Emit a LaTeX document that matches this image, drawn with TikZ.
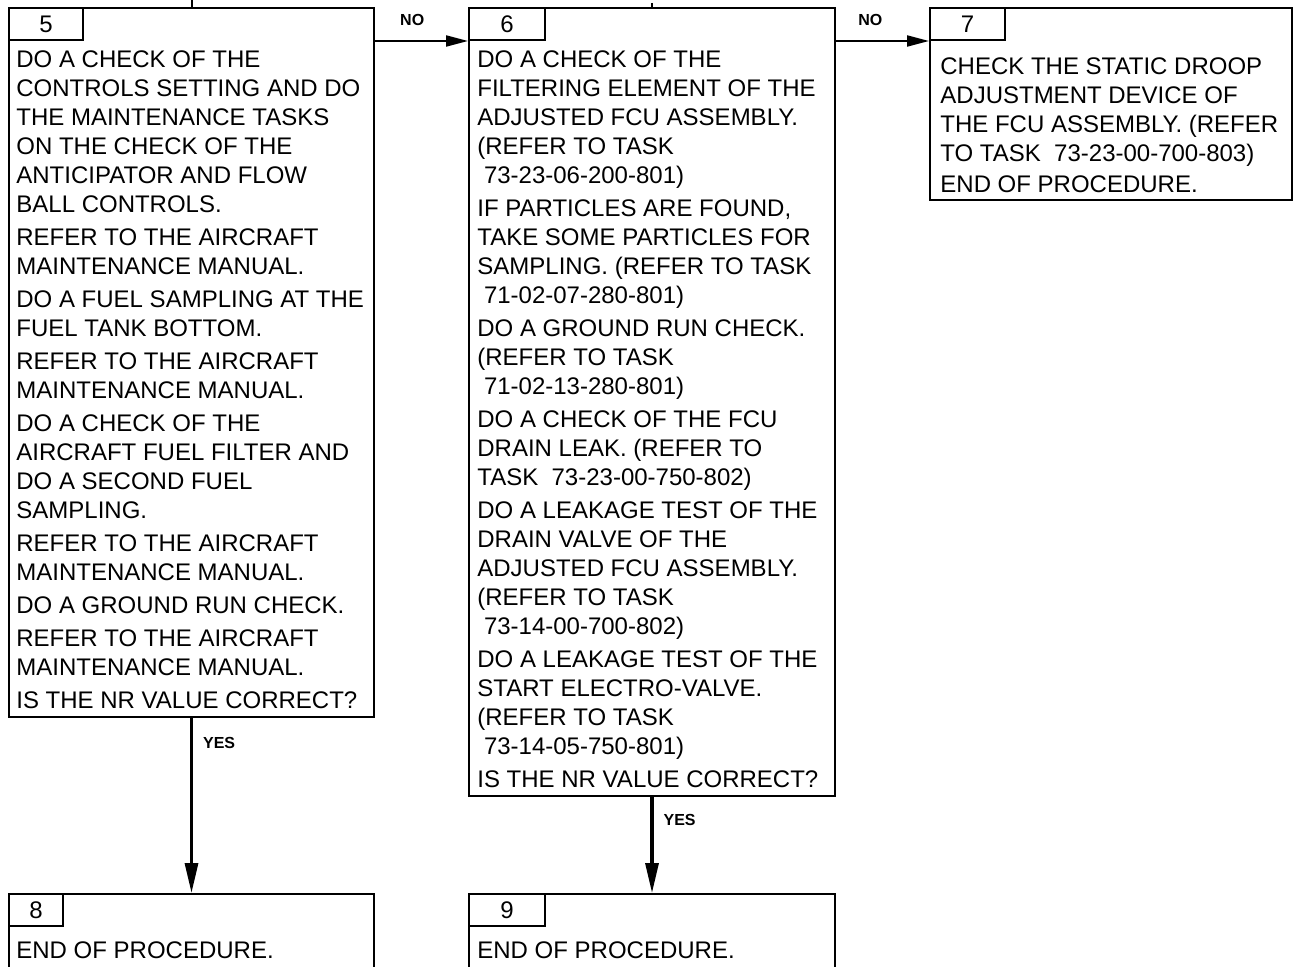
\documentclass[tikz,border=0pt]{standalone}
\usepackage{fontspec}
\setmainfont{Liberation Sans}
\usetikzlibrary{positioning, arrows.meta}

\begin{document}
\begin{tikzpicture}[
    x=0.5pt, y=-0.5pt,
    stepbox/.style={draw, line width=1pt, inner sep=0pt, anchor=north west},
    tabbox/.style={draw, line width=1pt, inner sep=0pt, anchor=north west, minimum height=16pt, font=\fontsize{12}{14}\selectfont},
    bodytext/.style={inner sep=0pt, align=left, font=\fontsize{12}{14.5}\selectfont},
    noarrow/.style={-{Triangle[length=11pt, width=5.5pt]}, line width=1pt},
    yesarrow/.style={-{Triangle[length=15pt, width=6.5pt]}, line width=1.6pt},
    answer/.style={inner sep=0pt, font=\bfseries\fontsize{8}{9}\selectfont}
]

\useasboundingbox (0,0) rectangle (1293,967);
\clip (0,0) rectangle (1293,967);

% ---------- Step 5 ----------
\node[stepbox, minimum width=182.5pt, minimum height=354.5pt] (box5) at (8,7) {};
\node[tabbox, minimum width=37pt] (tab5) at (box5.north west) {5};
\node[bodytext, below right=21.5pt and 4pt of box5.north west] (text5) {DO A CHECK OF THE\\
CONTROLS SETTING AND DO\\
THE MAINTENANCE TASKS\\
ON THE CHECK OF THE\\
ANTICIPATOR AND FLOW\\
BALL CONTROLS.\\[2pt]
REFER TO THE AIRCRAFT\\
MAINTENANCE MANUAL.\\[2pt]
DO A FUEL SAMPLING AT THE\\
FUEL TANK BOTTOM.\\[2pt]
REFER TO THE AIRCRAFT\\
MAINTENANCE MANUAL.\\[2pt]
DO A CHECK OF THE\\
AIRCRAFT FUEL FILTER AND\\
DO A SECOND FUEL\\
SAMPLING.\\[2pt]
REFER TO THE AIRCRAFT\\
MAINTENANCE MANUAL.\\[2pt]
DO A GROUND RUN CHECK.\\[2pt]
REFER TO THE AIRCRAFT\\
MAINTENANCE MANUAL.\\[2pt]
IS THE NR VALUE CORRECT?};

% ---------- Step 6 ----------
\node[stepbox, minimum width=183pt, minimum height=394pt, right=46.5pt of box5.north east, anchor=north west] (box6) {};
\node[tabbox, minimum width=38pt] (tab6) at (box6.north west) {6};
\node[bodytext, below right=21.5pt and 4.5pt of box6.north west] (text6) {DO A CHECK OF THE\\
FILTERING ELEMENT OF THE\\
ADJUSTED FCU ASSEMBLY.\\
(REFER TO TASK\\
\hspace*{3.3pt}73-23-06-200-801)\\[2pt]
IF PARTICLES ARE FOUND,\\
TAKE SOME PARTICLES FOR\\
SAMPLING. (REFER TO TASK\\
\hspace*{3.3pt}71-02-07-280-801)\\[2pt]
DO A GROUND RUN CHECK.\\
(REFER TO TASK\\
\hspace*{3.3pt}71-02-13-280-801)\\[2pt]
DO A CHECK OF THE FCU\\
DRAIN LEAK. (REFER TO\\
TASK~~73-23-00-750-802)\\[2pt]
DO A LEAKAGE TEST OF THE\\
DRAIN VALVE OF THE\\
ADJUSTED FCU ASSEMBLY.\\
(REFER TO TASK\\
\hspace*{3.3pt}73-14-00-700-802)\\[2pt]
DO A LEAKAGE TEST OF THE\\
START ELECTRO-VALVE.\\
(REFER TO TASK\\
\hspace*{3.3pt}73-14-05-750-801)\\[2pt]
IS THE NR VALUE CORRECT?};

% ---------- Step 7 ----------
\node[stepbox, minimum width=181pt, minimum height=96pt, right=46.5pt of box6.north east, anchor=north west] (box7) {};
\node[tabbox, minimum width=37.5pt] (tab7) at (box7.north west) {7};
\node[bodytext, below right=25pt and 5.5pt of box7.north west] (text7) {CHECK THE STATIC DROOP\\
ADJUSTMENT DEVICE OF\\
THE FCU ASSEMBLY. (REFER\\
TO TASK~~73-23-00-700-803)\\[1pt]
END OF PROCEDURE.};

% ---------- Steps 8 and 9 ----------
\node[stepbox, minimum width=182.5pt, minimum height=50pt, below=87.5pt of box5.south west, anchor=north west] (box8) {};
\node[tabbox, minimum width=27pt] (tab8) at (box8.north west) {8};
\node[bodytext, below right=24pt and 4pt of box8.north west] (text8) {END OF PROCEDURE.};

\node[stepbox, minimum width=183pt, minimum height=50pt, below=48pt of box6.south west, anchor=north west] (box9) {};
\node[tabbox, minimum width=38pt] (tab9) at (box9.north west) {9};
\node[bodytext, below right=24pt and 4.5pt of box9.north west] (text9) {END OF PROCEDURE.};

% ---------- Connectors ----------
\coordinate (in5) at (box5.north |- 0,0);
\coordinate (in6) at (box6.north |- 0,3);
\draw[line width=1pt] (in5) -- (box5.north);
\draw[line width=1pt] (in6) -- (box6.north);

\draw[noarrow] (box5.east |- tab5.south) -- (box6.west |- tab5.south)
    node[answer, pos=0.4, above=7pt] {NO};
\draw[noarrow] (box6.east |- tab6.south) -- (box7.west |- tab6.south)
    node[answer, pos=0.37, above=7pt] {NO};

\draw[yesarrow] (box5.south) -- (box8.north)
    node[answer, pos=0.14, right=5pt] {YES};
\draw[yesarrow] (box6.south) -- (box9.north)
    node[answer, pos=0.24, right=5pt] {YES};

\end{tikzpicture}
\end{document}
